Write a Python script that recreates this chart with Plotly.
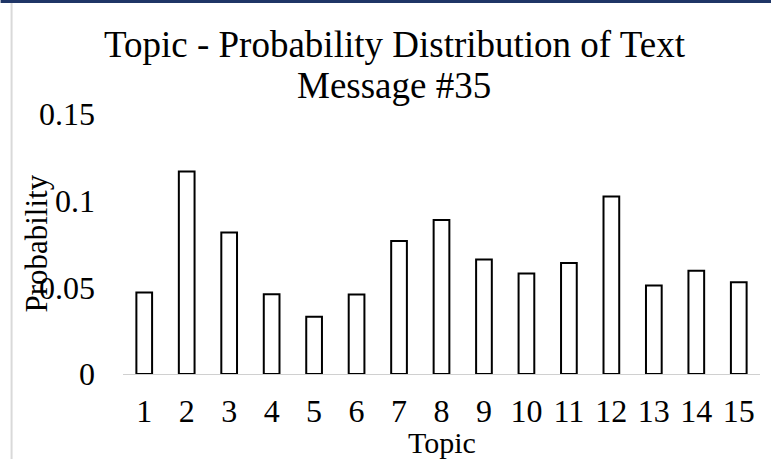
import plotly.graph_objects as go

# Topic probabilities for text message #35
topics = [str(i) for i in range(1, 16)]
probabilities = [0.0470, 0.1168, 0.0816, 0.0460, 0.0331, 0.0458, 0.0768, 0.0888,
                 0.0660, 0.0580, 0.0641, 0.1024, 0.0510, 0.0595, 0.0530]
y_ticks = [0, 0.05, 0.1, 0.15]
y_tick_labels = ["0", "0.05", "0.1", "0.15"]

title_line1 = "Topic - Probability Distribution of Text"
title_line2 = "Message #35"

W, H = 771, 459
ML, MR, MT, MB = 122.5, 11, 114, 85
PW, PH = W - ML - MR, H - MT - MB

SERIF = "Liberation Serif, Times New Roman, serif"


def px_to_paper_y(py):
    return (H - MB - py) / PH


def px_to_paper_x(px):
    return (px - ML) / PW


fig = go.Figure(
    go.Bar(
        x=topics,
        y=probabilities,
        width=0.37,
        marker=dict(color="white", line=dict(color="black", width=2)),
        hoverinfo="x+y",
    )
)

fig.update_layout(
    width=W,
    height=H,
    margin=dict(l=ML, r=MR, t=MT, b=MB, pad=0, autoexpand=False),
    paper_bgcolor="white",
    plot_bgcolor="white",
    showlegend=False,
    font=dict(family=SERIF, color="black"),
    xaxis=dict(
        type="category",
        automargin=False,
        showgrid=False,
        showline=True,
        linecolor="#d0d0d0",
        linewidth=1.4,
        ticks="",
        tickfont=dict(size=32, family=SERIF, color="black"),
        ticklabelstandoff=8,
        zeroline=False,
    ),
    yaxis=dict(
        range=[0, 0.15],
        automargin=False,
        tickvals=y_ticks,
        ticktext=y_tick_labels,
        showgrid=False,
        showline=False,
        zeroline=False,
        ticks="",
        tickfont=dict(size=32, family=SERIF, color="black"),
        ticklabelstandoff=27,
    ),
    annotations=[
        dict(text=title_line1, xref="paper", yref="paper",
             x=px_to_paper_x(394.5), y=px_to_paper_y(44), xanchor="center", yanchor="middle",
             showarrow=False, font=dict(size=37, family=SERIF, color="black")),
        dict(text=title_line2, xref="paper", yref="paper",
             x=px_to_paper_x(393.5), y=px_to_paper_y(86), xanchor="center", yanchor="middle",
             showarrow=False, font=dict(size=37, family=SERIF, color="black")),
        dict(text="Probability", xref="paper", yref="paper", textangle=-90,
             x=px_to_paper_x(35), y=0.5, xanchor="center", yanchor="middle",
             showarrow=False, font=dict(size=31, family=SERIF, color="black")),
        dict(text="Topic", xref="paper", yref="paper",
             x=0.5, y=px_to_paper_y(442), xanchor="center", yanchor="middle",
             showarrow=False, font=dict(size=30, family=SERIF, color="black")),
    ],
    shapes=[
        # dark band across the top edge
        dict(type="rect", xref="paper", yref="paper",
             x0=px_to_paper_x(0), x1=px_to_paper_x(W), y0=px_to_paper_y(3), y1=px_to_paper_y(0),
             fillcolor="#1f3566", line=dict(width=0), layer="above"),
        # chart area border on the left
        dict(type="line", xref="paper", yref="paper",
             x0=px_to_paper_x(11), x1=px_to_paper_x(11), y0=px_to_paper_y(3), y1=px_to_paper_y(H),
             line=dict(color="#d9d9d9", width=2)),
    ],
)

fig.write_html("out.html")
